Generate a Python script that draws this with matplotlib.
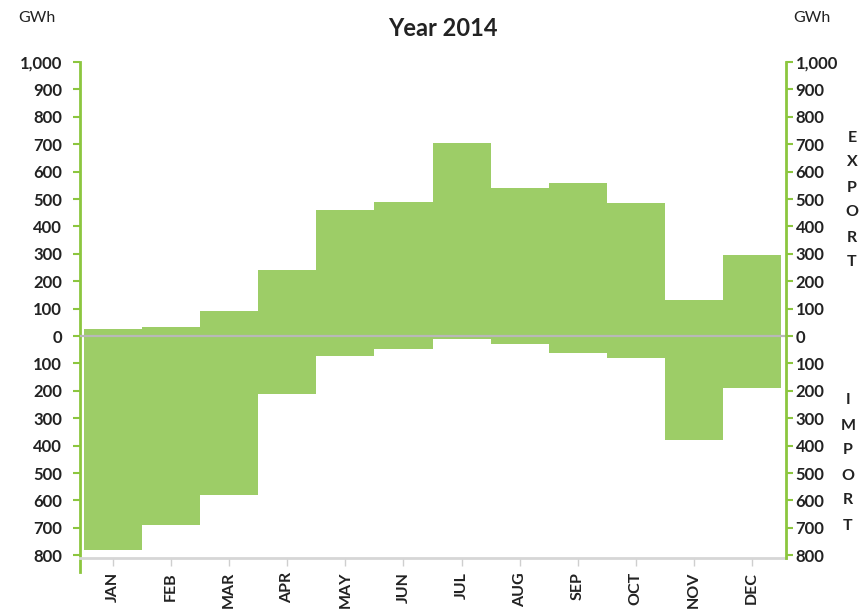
import numpy as np
import matplotlib.pyplot as plt

months = ["JAN", "FEB", "MAR", "APR", "MAY", "JUN",
          "JUL", "AUG", "SEP", "OCT", "NOV", "DEC"]
export_gwh = [25, 33, 90, 240, 460, 490, 705, 540, 560, 485, 130, 295]
import_gwh = [780, 690, 580, 210, 73, 47, 11, 29, 62, 80, 380, 189]
ytick_values = list(range(-800, 1001, 100))

green = "#9dcd67"
spine_green = "#8cc63f"
grey = "#b8b8b8"
font = ["Lato", "DejaVu Sans"]

plt.rcParams["font.family"] = font

fig = plt.figure(figsize=(8.62, 6.09), dpi=100)
W, H = 862, 609
ax = fig.add_axes([80 / W, 1 - 558 / H, 706 / W, 496 / H])

x = np.arange(len(months))
exp = np.array(export_gwh)
imp = np.array(import_gwh)
ax.bar(x, exp + imp, bottom=-imp, width=1.0, color=green, linewidth=0, zorder=2)
ax.axhline(0, color=grey, lw=1.6, zorder=3)

ax.set_xlim(-0.569, 11.586)
ax.set_ylim(-810, 1000)

def fmt(v):
    return f"{abs(v):,}"

ax.set_yticks(ytick_values)
ax.set_yticklabels([fmt(v) for v in ytick_values], fontsize=12, fontweight="bold", color="#222222")
ax.set_xticks(x)
ax.set_xticklabels(months, rotation=90, fontsize=11.5, fontweight="bold", color="#222222")
ax.tick_params(axis="x", length=6, width=1, color="#cfcfcf", pad=4)
ax.tick_params(axis="y", length=5, width=1.5, color=spine_green, pad=8)

for s in ["top", "right"]:
    ax.spines[s].set_visible(False)
ax.spines["bottom"].set_color("#d6d6d6")
ax.spines["bottom"].set_linewidth(2)
ax.spines["left"].set_color(spine_green)
ax.spines["left"].set_linewidth(2)
ax.spines["left"].set_bounds(-860, 1000)

ax2 = ax.twinx()
ax2.set_ylim(ax.get_ylim())
ax2.set_yticks(ytick_values)
ax2.set_yticklabels([fmt(v) for v in ytick_values], fontsize=12, fontweight="bold", color="#222222")
ax2.tick_params(axis="y", length=5, width=1.5, color=spine_green, pad=2)
for s in ["top", "left", "bottom"]:
    ax2.spines[s].set_visible(False)
ax2.spines["right"].set_color(spine_green)
ax2.spines["right"].set_linewidth(2)

fig.text(37 / W, 1 - 18 / H, "GWh", ha="center", va="center", fontsize=11.5, color="#222222")
fig.text(812 / W, 1 - 18 / H, "GWh", ha="center", va="center", fontsize=11.5, color="#222222")
fig.text(443 / W, 1 - 28 / H, "Year 2014", ha="center", va="center", fontsize=17, fontweight="bold", color="#222222")

fig.text(852 / W, 1 - 200 / H, "\n".join("EXPORT"), ha="center", va="center",
         multialignment="center", fontsize=11.5, fontweight="bold", linespacing=2.0, color="#222222")
fig.text(848 / W, 1 - 463 / H, "\n".join("IMPORT"), ha="center", va="center",
         multialignment="center", fontsize=11.5, fontweight="bold", linespacing=2.0, color="#222222")

fig.savefig("out.png", dpi=100)
